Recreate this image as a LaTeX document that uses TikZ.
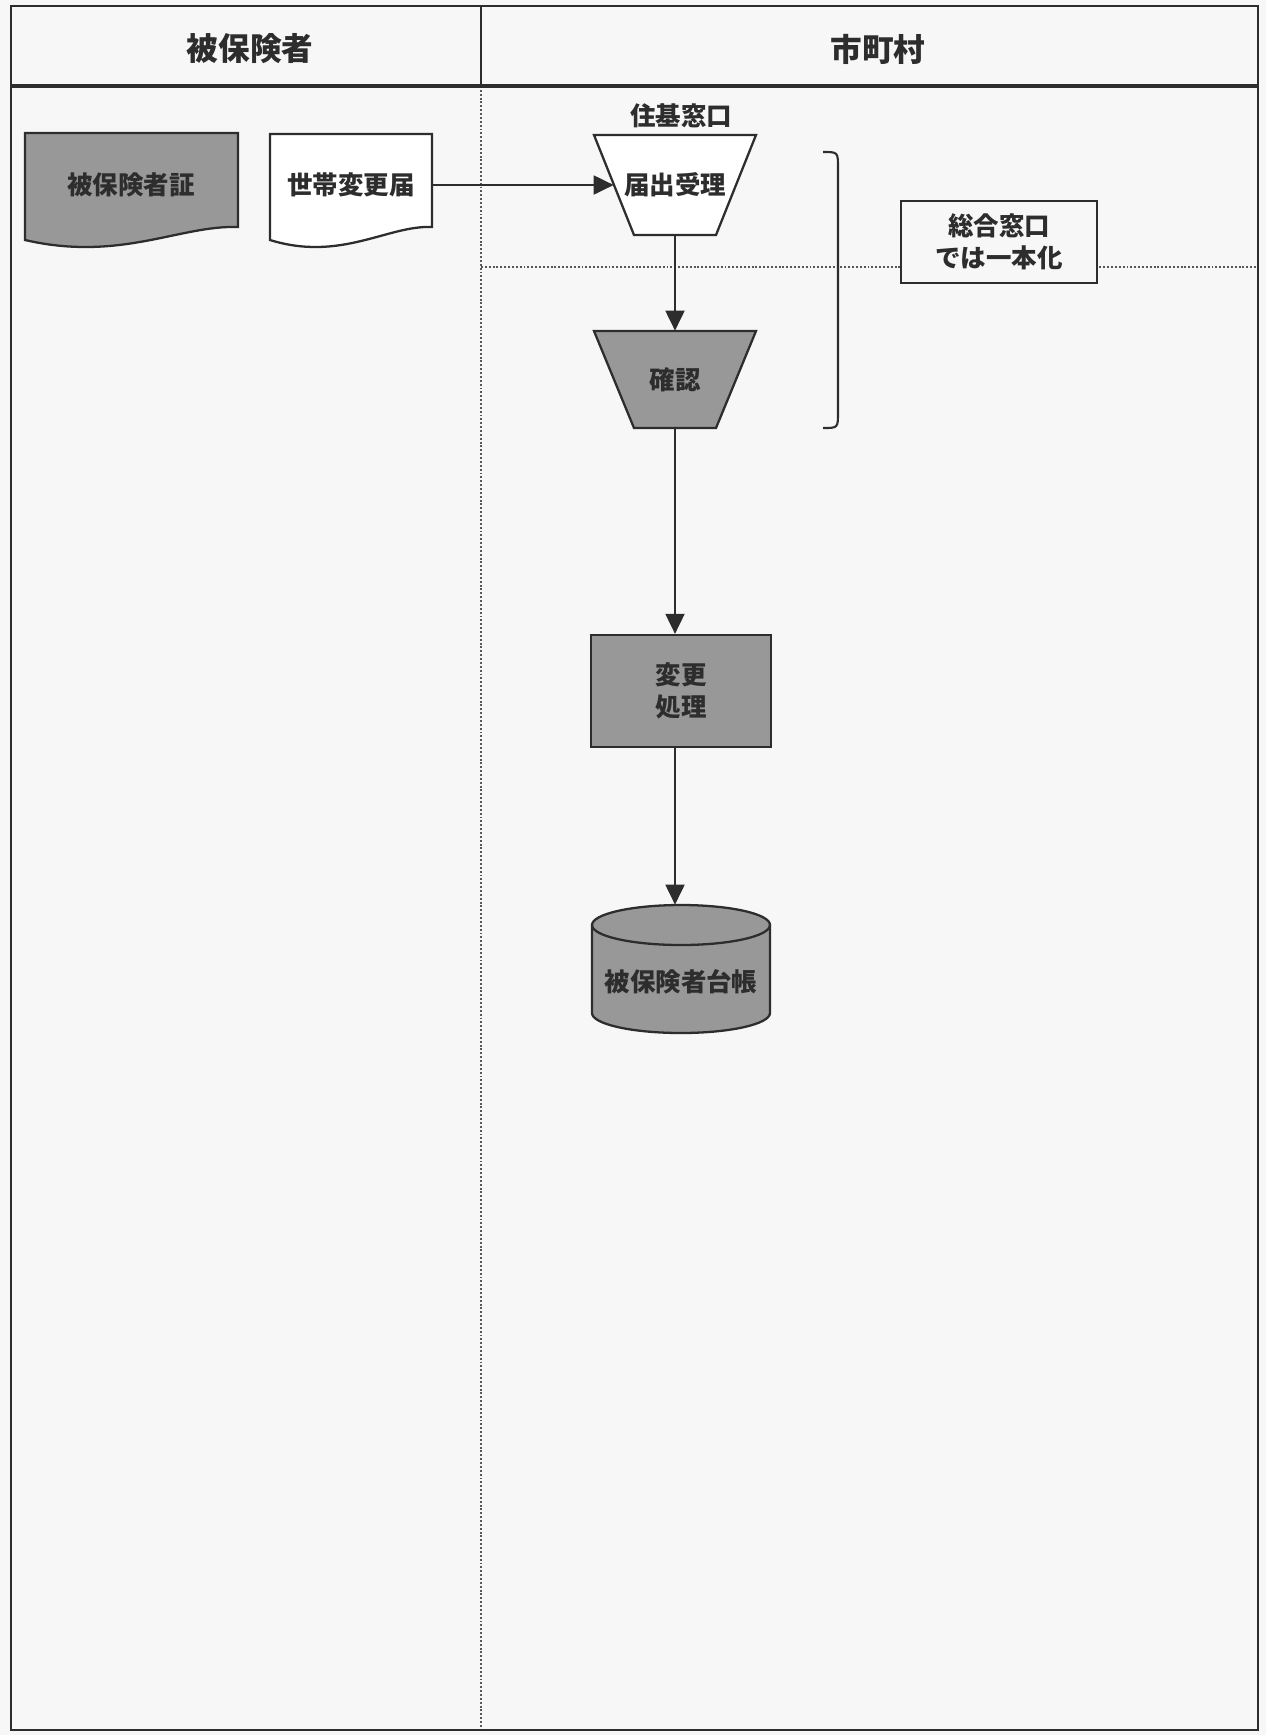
\documentclass[tikz,border=0pt]{standalone}
\usepackage{fontspec}
\setmainfont{Noto Sans CJK JP}
\usetikzlibrary{arrows.meta}

\definecolor{paper}{RGB}{247,247,247}
\definecolor{shade}{RGB}{152,152,152}
\definecolor{ink}{RGB}{45,45,45}

\tikzset{
  lbl/.style={font=\fontsize{14.5pt}{18.5pt}\selectfont\bfseries, text=ink, inner sep=0pt, align=center},
  head/.style={font=\fontsize{18pt}{22pt}\selectfont\bfseries, text=ink, inner sep=0pt},
  outline/.style={draw=ink, line width=1.3pt},
  flow/.style={draw=ink, line width=1.1pt, -{Triangle[length=0.4cm,width=0.38cm]}},
  lanedots/.style={draw=ink!80, line width=1.1pt, dash pattern=on 1.1pt off 1.1pt},
}

\begin{document}
\begin{tikzpicture}[x=0.02cm, y=-0.02cm]
  \useasboundingbox (0,0) rectangle (1266,1735);
  \fill[paper] (0,0) rectangle (1266,1735);

  % swim lanes
  \draw[lanedots] (481,86) -- (481,1730);
  \draw[lanedots] (481,267) -- (1258,267);
  \draw[outline, line width=1.2pt] (11,6) rectangle (1258,1730);
  \draw[outline, line width=2pt] (11,86) -- (1258,86);
  \draw[outline, line width=1.2pt] (481,6) -- (481,86);
  \node[head] (lane1) at (250,49) {被保険者};
  \node[head] (lane2) at (878,49) {市町村};

  % documents
  \filldraw[outline, fill=shade] (25,133) -- (238,133) -- (238,227)
    .. controls (180,225) and (120,262) .. (25,240) -- cycle;
  \filldraw[outline, fill=white] (270,134) -- (432,134) -- (432,227)
    .. controls (388,225) and (341,262) .. (270,240) -- cycle;
  \node[lbl, minimum width=4.26cm, minimum height=2.04cm] (shosho) at (131,185) {被保険者証};
  \node[lbl, minimum width=3.24cm, minimum height=2.04cm] (todoke) at (351,185) {世帯変更届};

  % reception
  \node[lbl] (madoguchi) at (681,116) {住基窓口};
  \filldraw[outline, fill=white] (594,135) -- (756,135) -- (716,235) -- (634,235) -- cycle;
  \node[lbl, minimum width=2.44cm, minimum height=2cm] (juri) at (675,185) {届出受理};
  \filldraw[outline, fill=shade] (594,331) -- (756,331) -- (716,428) -- (634,428) -- cycle;
  \node[lbl, minimum width=2.44cm, minimum height=1.94cm] (kakunin) at (675,379.5) {確認};

  % bracket and note
  \draw[outline, line width=1.2pt] (823,152) .. controls (838,152) .. (838,168)
    -- (838,412) .. controls (838,428) .. (823,428);
  \node[lbl, outline, fill=paper, minimum width=3.92cm, minimum height=1.64cm] (sogo) at (999,242) {総合窓口\\では一本化};

  % processing
  \node[lbl, outline, fill=shade, minimum width=3.6cm, minimum height=2.24cm] (henkou) at (681,691) {変更\\処理};
  \filldraw[outline, fill=shade] (592,925) -- (592,1013)
    arc[start angle=180, end angle=360, x radius=1.78cm, y radius=0.4cm] -- (770,925)
    arc[start angle=0, end angle=180, x radius=1.78cm, y radius=0.4cm] -- cycle;
  \draw[outline] (592,925) arc[start angle=180, end angle=360, x radius=1.78cm, y radius=0.4cm];
  \node[lbl, minimum width=3.56cm, minimum height=3.08cm] (daicho) at (681,982) {被保険者台帳};

  % flows
  \draw[flow] (todoke) -- (juri);
  \draw[flow] (juri) -- (kakunin);
  \draw[flow] (kakunin.south) -- (kakunin.south |- henkou.north);
  \draw[flow] (henkou.south -| kakunin.south) -- (daicho.north -| kakunin.south);
\end{tikzpicture}
\end{document}
